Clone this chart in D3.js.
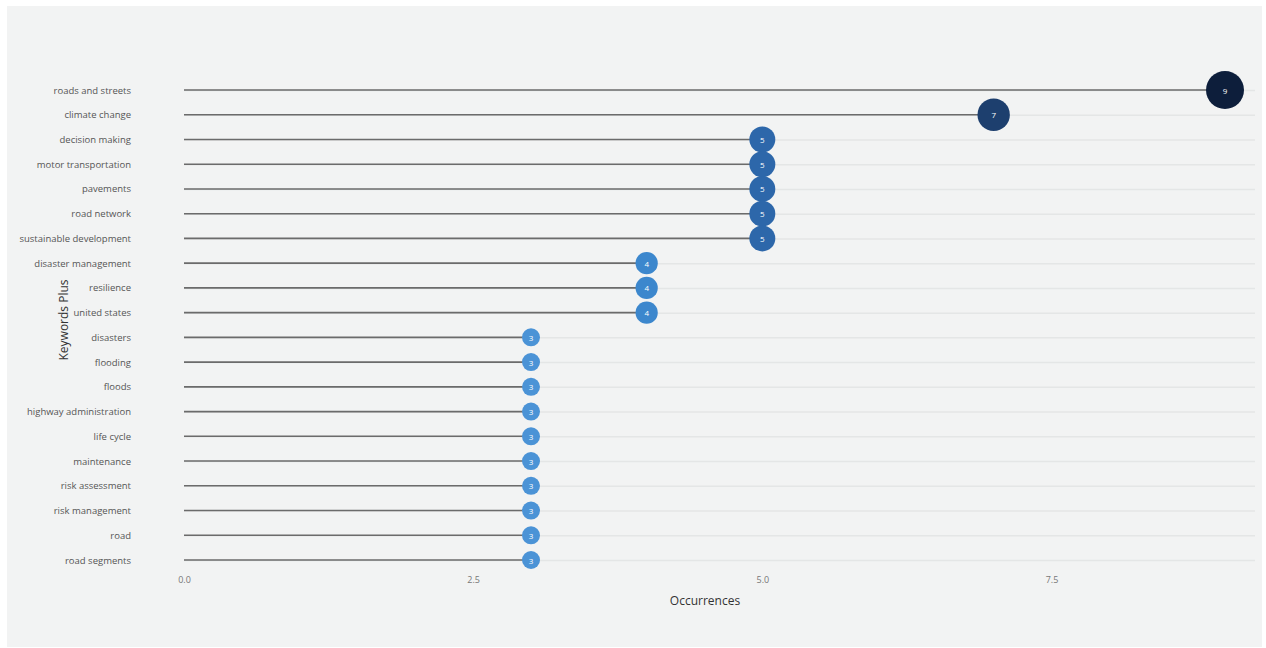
<!DOCTYPE html>
<html>
<head>
<meta charset="utf-8">
<script src="https://cdn.jsdelivr.net/npm/d3@7"></script>
<style>
  body { margin: 0; background: #ffffff; }
  svg { display: block; font-family: "Open Sans", sans-serif; }
</style>
</head>
<body>
<div id="chart"></div>
<script>
// keywords, top to bottom
var keywords = ["roads and streets", "climate change", "decision making", "motor transportation",
  "pavements", "road network", "sustainable development", "disaster management", "resilience",
  "united states", "disasters", "flooding", "floods", "highway administration", "life cycle",
  "maintenance", "risk assessment", "risk management", "road", "road segments"];
var occurrences = [9, 7, 5, 5, 5, 5, 5, 4, 4, 4, 3, 3, 3, 3, 3, 3, 3, 3, 3, 3];
var xTicks = [0, 2.5, 5, 7.5];

var W = 1266, H = 648;
var margin = {left: 184, right: 1266 - 1225, top: 78, bottom: 648 - 572};

var svg = d3.select("#chart").append("svg").attr("width", W).attr("height", H);

// panel
svg.append("rect").attr("x", 7).attr("y", 6).attr("width", 1255).attr("height", 641)
  .attr("fill", "#f2f3f3");

var x = d3.scaleLinear().domain([0, 9]).range([margin.left, W - margin.right]);
var y = d3.scalePoint().domain(keywords).range([90, 560]);
var r = d3.scaleSqrt().domain([3, 9]).range([9, 19]);
var color = d3.scaleLinear().domain([3, 4, 5, 7, 9])
  .range(["#4b93d6", "#3c87cd", "#2d67aa", "#1d3f6e", "#0d1e3b"]);

// grid lines
svg.append("g").selectAll("line").data(keywords).enter().append("line")
  .attr("x1", margin.left).attr("x2", 1255)
  .attr("y1", function(d){ return y(d) + 0.5; }).attr("y2", function(d){ return y(d) + 0.5; })
  .attr("stroke", "#e4e6e6").attr("stroke-width", 1.5);

// stems
svg.append("g").selectAll("line").data(keywords).enter().append("line")
  .attr("x1", x(0)).attr("x2", function(d, i){ return x(occurrences[i]); })
  .attr("y1", function(d){ return y(d); }).attr("y2", function(d){ return y(d); })
  .attr("stroke", "#6b6b6b").attr("stroke-width", 1.6);

// dots
var dots = svg.append("g").selectAll("g").data(keywords).enter().append("g")
  .attr("transform", function(d, i){ return "translate(" + x(occurrences[i]) + "," + y(d) + ")"; });
dots.append("circle")
  .attr("r", function(d, i){ return r(occurrences[i]); })
  .attr("fill", function(d, i){ return color(occurrences[i]); });
dots.append("text")
  .attr("text-anchor", "middle").attr("dominant-baseline", "central")
  .attr("fill", "#ffffff").attr("font-size", 8)
  .text(function(d, i){ return occurrences[i]; });

// y labels
var yAxis = d3.axisLeft(y).tickSize(0).tickPadding(0);
var yg = svg.append("g").attr("transform", "translate(131,0)").call(yAxis);
yg.select(".domain").remove();
yg.selectAll("text").attr("fill", "#555").attr("font-size", 9.5)
  .attr("font-family", "Open Sans, sans-serif");

// x ticks
var xAxis = d3.axisBottom(x).tickValues(xTicks).tickFormat(d3.format(".1f")).tickSize(0).tickPadding(0);
var xg = svg.append("g").attr("transform", "translate(0,577)").call(xAxis);
xg.select(".domain").remove();
xg.selectAll("text").attr("fill", "#777").attr("font-size", 9)
  .attr("font-family", "Open Sans, sans-serif");

// axis titles
svg.append("text").attr("x", 705).attr("y", 605).attr("text-anchor", "middle")
  .attr("font-size", 12).attr("fill", "#333").text("Occurrences");
svg.append("text").attr("transform", "translate(68,320) rotate(-90)").attr("text-anchor", "middle")
  .attr("font-size", 12).attr("fill", "#333").text("Keywords Plus");
</script>
</body>
</html>
